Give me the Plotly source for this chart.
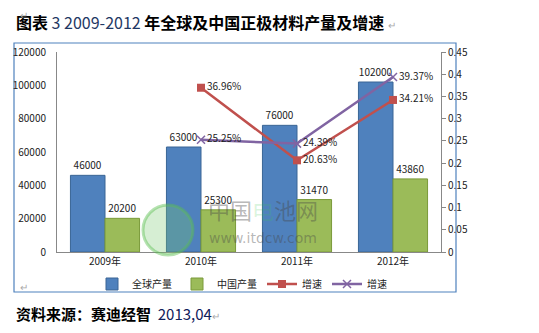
import plotly.graph_objects as go

years = ["2009年", "2010年", "2011年", "2012年"]
global_output = [46000, 63000, 76000, 102000]
china_output = [20200, 25300, 31470, 43860]
growth_a_years = ["2010年", "2011年", "2012年"]
growth_a = [0.3696, 0.2063, 0.3421]
growth_b = [0.2525, 0.2439, 0.3937]
left_ticks = [0, 20000, 40000, 60000, 80000, 100000, 120000]
right_ticks = [0, 0.05, 0.1, 0.15, 0.2, 0.25, 0.3, 0.35, 0.4, 0.45]

FONT = "Noto Sans CJK SC"
L, R, T, B = 57, 441, 52, 252
W, H = 539, 333

def px(x):
    return (x - L) / (R - L)

def py(y):
    return (B - y) / (B - T)

fig = go.Figure()
fig.add_trace(go.Bar(
    x=years, y=global_output, name="全球产量",
    marker=dict(color="#4F81BD", line=dict(color="#3A6595", width=1)),
    text=[str(v) for v in global_output], textposition="outside",
    textfont=dict(size=10, color="#222222", family=FONT), cliponaxis=False))
fig.add_trace(go.Bar(
    x=years, y=china_output, name="中国产量",
    marker=dict(color="#9BBB59", line=dict(color="#7A9A3A", width=1)),
    text=[str(v) for v in china_output], textposition="outside",
    textfont=dict(size=10, color="#222222", family=FONT), cliponaxis=False))
fig.add_trace(go.Scatter(
    x=growth_a_years, y=growth_a, name="增速", yaxis="y2",
    mode="lines+markers+text",
    line=dict(color="#C0504D", width=2.5),
    marker=dict(symbol="square", size=8, color="#C0504D"),
    text=[f"{v*100:.2f}%" for v in growth_a], textposition="middle right",
    textfont=dict(size=10, color="#222222", family=FONT), cliponaxis=False))
fig.add_trace(go.Scatter(
    x=growth_a_years, y=growth_b, name="增速", yaxis="y2",
    mode="lines+markers+text",
    line=dict(color="#8064A2", width=2.5),
    marker=dict(symbol="x-thin", size=8, color="#8064A2", line=dict(color="#8064A2", width=1.5)),
    text=[f"{v*100:.2f}%" for v in growth_b], textposition="middle right",
    textfont=dict(size=10, color="#222222", family=FONT), cliponaxis=False))

fig.update_layout(
    width=W, height=H,
    margin=dict(l=L, r=W - R, t=T, b=H - B, pad=0),
    paper_bgcolor="white", plot_bgcolor="white",
    barmode="group", bargap=0.28, bargroupgap=0,
    font=dict(family=FONT, size=10, color="#222222"),
    xaxis=dict(showline=True, linecolor="#888888", linewidth=1, ticks="",
               tickfont=dict(size=10, family=FONT), showgrid=False),
    yaxis=dict(range=[0, 120000], tickvals=left_ticks, ticktext=[str(v) for v in left_ticks],
               showline=True, linecolor="#888888", linewidth=1, showgrid=False, ticks="",
               ticklabelstandoff=8, tickfont=dict(size=10, family=FONT), zeroline=False),
    yaxis2=dict(range=[0, 0.45], tickvals=right_ticks, ticktext=[f"{v:g}" for v in right_ticks],
                overlaying="y", side="right",
                showline=True, linecolor="#888888", linewidth=1, showgrid=False,
                ticks="outside", ticklen=4, tickcolor="#888888",
                tickfont=dict(size=10, family=FONT), zeroline=False),
    legend=dict(orientation="h", x=px(242), y=py(284), xanchor="center", yanchor="middle",
                font=dict(size=10, family=FONT), itemwidth=30,
                tracegroupgap=0, bgcolor="rgba(0,0,0,0)"),
    showlegend=True,
)

# chart frame
fig.add_shape(type="rect", xref="paper", yref="paper",
              x0=px(14), x1=px(456), y0=py(292), y1=py(43),
              line=dict(color="#4F81BD", width=1.2), layer="below")

# watermark
fig.add_shape(type="circle", xref="paper", yref="paper",
              x0=px(143), x1=px(193), y0=py(255), y1=py(205),
              line=dict(color="rgba(90,190,80,0.45)", width=3),
              fillcolor="rgba(120,200,110,0.3)", layer="above")
fig.add_annotation(xref="paper", yref="paper", x=px(263), y=py(227),
                   text="中国<span style='color:rgba(60,200,80,0.5)'>电</span>池网",
                   showarrow=False, font=dict(size=22, color="rgba(70,70,70,0.4)", family=FONT))
fig.add_annotation(xref="paper", yref="paper", x=px(263), y=py(248), text="www.itdcw.com",
                   showarrow=False, font=dict(size=14, color="rgba(70,70,70,0.4)", family="DejaVu Sans"))

# title
fig.add_annotation(xref="paper", yref="paper", x=px(14), y=py(22), xanchor="left", yanchor="middle",
                   text="<b>图表</b> <span style='color:#1F3864'>3 2009-2012</span> <b>年全球及中国正极材料产量及增速</b> <span style='color:#AAAAAA;font-size:10px'>↵</span>",
                   showarrow=False, font=dict(size=16, color="#000000", family=FONT))
# source
fig.add_annotation(xref="paper", yref="paper", x=px(14), y=py(313), xanchor="left", yanchor="middle",
                   text="<b>资料来源：赛迪经智</b>  <span style='color:#10205A'>2013,04</span><span style='color:#AAAAAA;font-size:10px'>↵</span>",
                   showarrow=False, font=dict(size=15, color="#000000", family=FONT))
# paragraph marks
for (x, y) in [(18, 5), (18, 296)]:
    fig.add_annotation(xref="paper", yref="paper", x=px(x), y=py(y), text="↵",
                       showarrow=False, font=dict(size=10, color="#AAAAAA", family=FONT))

fig.write_html("out.html")
